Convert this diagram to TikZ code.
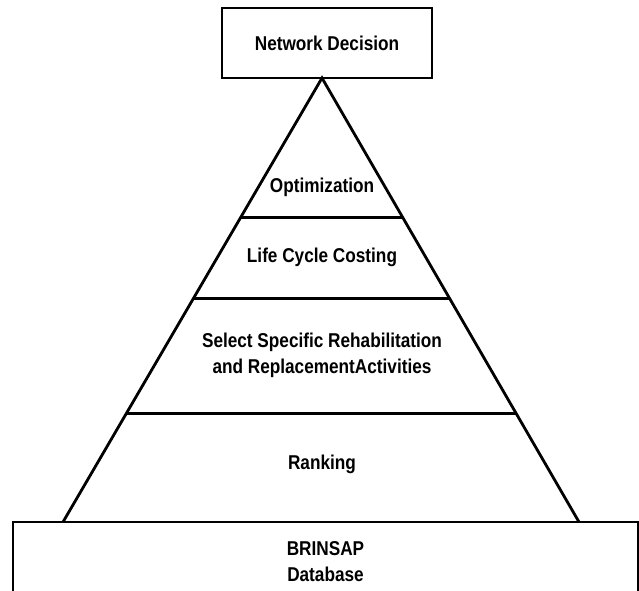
\documentclass[tikz,border=0pt]{standalone}
\usepackage{fontspec}
\setmainfont{Liberation Sans}[FakeStretch=0.86]
\usetikzlibrary{calc,positioning}
\tikzset{>=stealth}
\tikzset{labeltext/.style={font=\bfseries\fontsize{20}{26}\selectfont,align=center,inner sep=0pt},
  levelbox/.style={draw,line width=2.8pt,labeltext}}

\begin{document}
\begin{tikzpicture}[x=1pt,y=-1pt]
\useasboundingbox (0,0) rectangle (639,590);
\coordinate (apex) at (322,78);
\coordinate (BL) at (63,522);
\coordinate (BR) at (579,522);

\node[levelbox,minimum width=210pt,minimum height=70pt] (decision) at (327,43) {Network Decision};
\begin{scope}
\clip (0,0) rectangle (640,590);
\node[levelbox,minimum width=625pt,minimum height=80pt] (database) at (325.5,562) {BRINSAP\\Database};
\end{scope}

\path ($(apex)!.3146!(BL)$) coordinate (A1) ($(apex)!.3146!(BR)$) coordinate (A2)
  ($(apex)!.4966!(BL)$) coordinate (B1) ($(apex)!.4966!(BR)$) coordinate (B2)
  ($(apex)!.755!(BL)$) coordinate (C1) ($(apex)!.755!(BR)$) coordinate (C2);

\draw[line width=2.8pt,line join=miter] (BL) -- (apex) -- (BR);
\draw[line width=2.8pt] (A1) -- (A2);
\draw[line width=2.8pt] (B1) -- (B2);
\draw[line width=2.8pt] (C1) -- (C2);

\node[labeltext] (optim) at (322,187) {Optimization};
\node[labeltext] (lcc) at (322,257) {Life Cycle Costing};
\node[labeltext] (select) at (322,355) {Select Specific Rehabilitation\\and ReplacementActivities};
\node[labeltext] (rank) at (322,464) {Ranking};
\end{tikzpicture}
\end{document}
